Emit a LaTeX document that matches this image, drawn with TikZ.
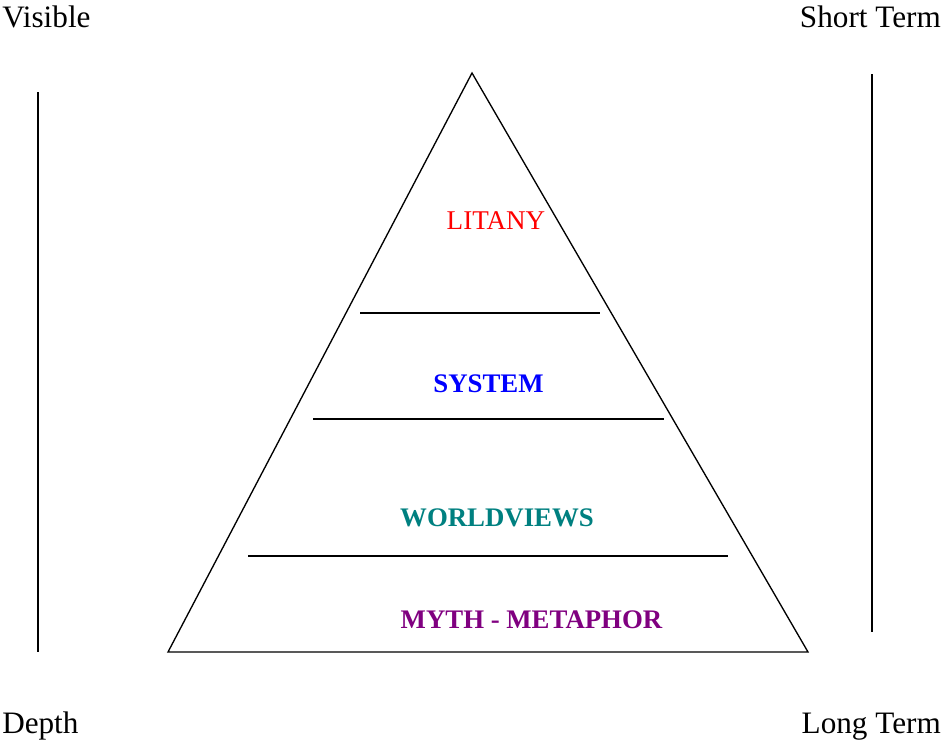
\documentclass[tikz,border=0pt]{standalone}
\usepackage{fontspec}
\setmainfont{Liberation Serif}
\definecolor{litred}{RGB}{255,0,0}
\definecolor{sysblue}{RGB}{0,0,255}
\definecolor{wvteal}{RGB}{0,128,128}
\definecolor{mythpurple}{RGB}{128,0,128}
\begin{document}
\begin{tikzpicture}[x=0.75pt,y=-0.75pt,
  ln/.style={line width=1pt,black},
  corner/.style={font=\fontsize{23.4}{27}\selectfont,inner sep=0pt},
  layer/.style={font=\fontsize{20.3}{24}\selectfont,inner sep=0pt},
  boldlayer/.style={layer,font=\fontsize{20.1}{24}\selectfont\bfseries}]
\useasboundingbox (0,0) rectangle (944,740);
% triangle
\coordinate (apex) at (472,73);
\coordinate (bl) at (168,652);
\coordinate (br) at (808,652);
\draw[ln,line join=miter] (bl) -- (apex) -- (br) -- cycle;
% layer separators
\coordinate (s1a) at (360,313); \coordinate (s1b) at (600,313);
\coordinate (s2a) at (313,419); \coordinate (s2b) at (664,419);
\coordinate (s3a) at (248,556); \coordinate (s3b) at (728,556);
\draw[ln] (s1a) -- (s1b);
\draw[ln] (s2a) -- (s2b);
\draw[ln] (s3a) -- (s3b);
% side lines
\coordinate (lt) at (38,92); \coordinate (lb) at (38,652);
\coordinate (rt) at (872,74); \coordinate (rb) at (872,632);
\draw[ln] (lt) -- (lb);
\draw[ln] (rt) -- (rb);
% layer labels
\node[layer,text=litred] (litany) at (496,221) {LITANY};
\node[boldlayer,text=sysblue] (system) at (488.5,384) {SYSTEM};
\node[boldlayer,text=wvteal] (worldviews) at (497,518) {WORLDVIEWS};
\node[boldlayer,text=mythpurple] (myth) at (531.5,620) {MYTH - METAPHOR};
% corner labels
\node[corner,anchor=base west] (visible) at (2,27) {Visible};
\node[corner,anchor=base east] (short) at (941,27) {Short Term};
\node[corner,anchor=base west] (depth) at (2,733) {Depth};
\node[corner,anchor=base east] (long) at (941,733) {Long Term};
\end{tikzpicture}
\end{document}
